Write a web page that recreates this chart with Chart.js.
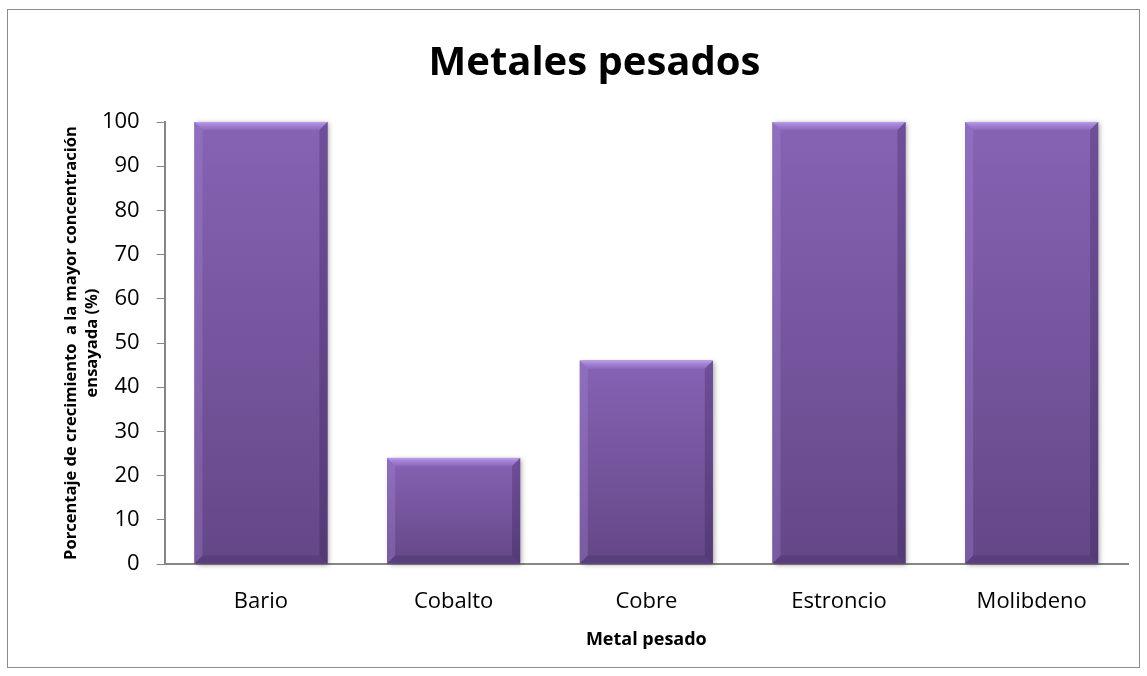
<!DOCTYPE html>
<html>
<head>
<meta charset="utf-8">
<script src="https://cdn.jsdelivr.net/npm/chart.js@4"></script>
<style>
  html, body { margin: 0; padding: 0; background: #fff; }
  canvas { display: block; }
</style>
</head>
<body>
<canvas id="barChart" width="1147" height="676"></canvas>
<script>
const metals = ['Bario', 'Cobalto', 'Cobre', 'Estroncio', 'Molibdeno'];
const growth = [100, 24, 46, 100, 100];
const yTicks = [0, 10, 20, 30, 40, 50, 60, 70, 80, 90, 100];

const FONT = "'Open Sans', sans-serif";
const AXIS_GREY = '#868686';

// white background + outer frame of the chart
const frame = {
  id: 'frame',
  beforeDraw(chart) {
    const c = chart.ctx;
    c.save();
    c.fillStyle = '#fff';
    c.fillRect(0, 0, chart.width, chart.height);
    c.strokeStyle = '#8c8c8c';
    c.lineWidth = 1;
    c.strokeRect(7.5, 9.5, chart.width - 15, chart.height - 18);
    c.restore();
  }
};

// bevel + soft shadow on each bar, like the office "bevel" style
const bevel = {
  id: 'bevel',
  beforeDatasetsDraw(chart) {
    const c = chart.ctx;
    c.save();
    c.shadowColor = 'rgba(0,0,0,0.35)';
    c.shadowBlur = 5;
    c.shadowOffsetX = 2;
    c.shadowOffsetY = 1;
    c.fillStyle = '#6a4c90';
    chart.getDatasetMeta(0).data.forEach(bar => {
      const l = bar.x - bar.width / 2;
      c.fillRect(l, bar.y, bar.width, bar.base - bar.y);
    });
    c.restore();
  },
  afterDatasetsDraw(chart) {
    const c = chart.ctx;
    const b = 8;
    c.save();
    chart.getDatasetMeta(0).data.forEach(bar => {
      const l = bar.x - bar.width / 2, r = bar.x + bar.width / 2;
      const t = bar.y, bt = bar.base;
      // top edge
      let g = c.createLinearGradient(0, t, 0, t + b);
      g.addColorStop(0, '#bb9eea');
      g.addColorStop(0.35, '#a584d8');
      g.addColorStop(1, '#8d6abd');
      c.fillStyle = g;
      c.beginPath();
      c.moveTo(l, t); c.lineTo(r, t); c.lineTo(r - b, t + b); c.lineTo(l + b, t + b);
      c.closePath(); c.fill();
      // left edge
      c.fillStyle = 'rgba(170,140,220,0.30)';
      c.beginPath();
      c.moveTo(l, t); c.lineTo(l + b, t + b); c.lineTo(l + b, bt - b); c.lineTo(l, bt);
      c.closePath(); c.fill();
      // right edge
      c.fillStyle = 'rgba(40,20,70,0.25)';
      c.beginPath();
      c.moveTo(r, t); c.lineTo(r - b, t + b); c.lineTo(r - b, bt - b); c.lineTo(r, bt);
      c.closePath(); c.fill();
      // bottom edge
      c.fillStyle = 'rgba(40,20,70,0.18)';
      c.beginPath();
      c.moveTo(l, bt); c.lineTo(l + b, bt - b); c.lineTo(r - b, bt - b); c.lineTo(r, bt);
      c.closePath(); c.fill();
    });
    c.restore();
  }
};

function barFill(ctx) {
  const chart = ctx.chart;
  const ys = chart.scales.y;
  if (!ys || ctx.raw === undefined) return '#7a58a4';
  const top = ys.getPixelForValue(ctx.raw);
  const base = ys.getPixelForValue(0);
  if (!isFinite(top) || !isFinite(base) || top === base) return '#7a58a4';
  const g = chart.ctx.createLinearGradient(0, top, 0, base);
  g.addColorStop(0, '#8763b4');
  g.addColorStop(1, '#644787');
  return g;
}

new Chart(document.getElementById('barChart').getContext('2d'), {
  type: 'bar',
  data: {
    labels: metals,
    datasets: [{
      label: 'Metales pesados',
      data: growth,
      backgroundColor: barFill,
      borderWidth: 0,
      barPercentage: 0.69,
      categoryPercentage: 1
    }]
  },
  options: {
    responsive: false,
    animation: false,
    layout: {
      padding: { left: 61, right: 19, top: 0, bottom: 25 }
    },
    plugins: {
      legend: { display: false },
      tooltip: { enabled: false },
      title: {
        display: true,
        text: 'Metales pesados',
        color: '#000',
        font: { family: FONT, size: 40, weight: 'bold' },
        padding: { top: 40, bottom: 34 }
      }
    },
    scales: {
      y: {
        min: 0,
        max: 100,
        afterBuildTicks(axis) { axis.ticks = yTicks.map(v => ({ value: v })); },
        ticks: {
          color: '#000',
          font: { family: FONT, size: 22 },
          padding: 17
        },
        grid: {
          display: true,
          drawOnChartArea: false,
          drawTicks: true,
          tickLength: 8,
          color: AXIS_GREY,
          lineWidth: 1
        },
        border: { color: AXIS_GREY, width: 2 },
        title: {
          display: true,
          text: ['Porcentaje de crecimiento  a la mayor concentración', 'ensayada (%)'],
          color: '#000',
          font: { family: FONT, size: 16.5, weight: 'bold', lineHeight: 1.27 },
          padding: { top: 0, bottom: -18 }
        }
      },
      x: {
        ticks: {
          color: '#000',
          font: { family: FONT, size: 22 },
          padding: 17
        },
        grid: { display: false },
        border: { color: AXIS_GREY, width: 2 },
        title: {
          display: true,
          text: 'Metal pesado',
          color: '#000',
          font: { family: FONT, size: 18, weight: 'bold' },
          padding: { top: -3, bottom: 0 }
        }
      }
    }
  },
  plugins: [frame, bevel]
});
</script>
</body>
</html>
